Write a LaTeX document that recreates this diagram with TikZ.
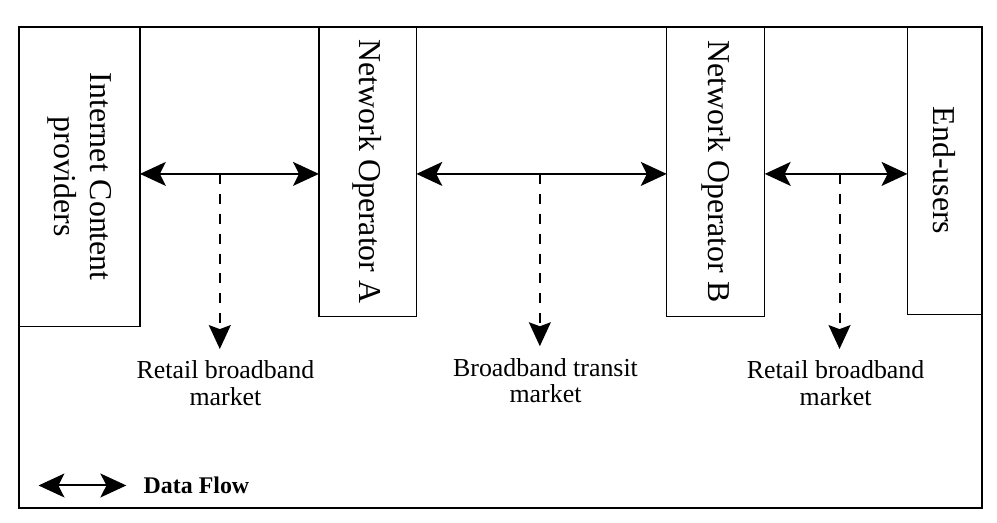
\documentclass[tikz,border=0pt]{standalone}
\usepackage{fontspec}
\setmainfont{Liberation Serif}
\usetikzlibrary{arrows.meta}

\tikzset{
	opbox/.style={rectangle, draw=black, line width=0.6pt, inner sep=0pt, outer sep=0pt},
	boxtext/.style={rotate=-90, align=center, font=\fontsize{16}{18}\selectfont},
	flow/.style={line width=1pt, {Stealth[length=13pt,width=12pt,inset=3pt]}-{Stealth[length=13pt,width=12pt,inset=3pt]}},
	market/.style={line width=1pt, dash pattern=on 5pt off 5pt, -{Stealth[length=12pt,width=11pt,inset=2pt]}},
	marketlabel/.style={align=center, font=\fontsize{13}{13.5}\selectfont, inner sep=1pt, outer sep=5pt}
}

\begin{document}
\begin{tikzpicture}
	\useasboundingbox (-0.33,0.47) rectangle (17.27,-8.76);
	\def\ya{-2.6}
	\def\bh{5.12}
	\coordinate (fy) at (0,\ya);
	\node[opbox, minimum width=2.14cm, minimum height=5.3cm] (icp) at (1.07,-2.65) {};
	\node[boxtext] at (icp) {Internet Content\\providers};
	\node[opbox, minimum width=1.72cm, minimum height=\bh cm] (opa) at (6.16,-\bh/2) {};
	\node[boxtext] at (opa) {Network Operator A};
	\node[opbox, minimum width=1.73cm, minimum height=\bh cm] (opb) at (12.305,-\bh/2) {};
	\node[boxtext] at (opb) {Network Operator B};
	\node[opbox, minimum width=1.31cm, minimum height=5.08cm] (eu) at (16.345,-2.54) {};
	\node[boxtext] at (eu) {End-users};
	\draw[line width=0.9pt] (0,0) rectangle (17,-8.5);
%%%%
	\draw[flow] (icp.east |- fy) -- (opa.west |- fy);
	\draw[flow] (opa.east |- fy) -- (opb.west |- fy);
	\draw[flow] (opb.east |- fy) -- (eu.west |- fy);
%%%%
	\coordinate (m1) at (3.55,\ya);
	\coordinate (m2) at (9.2,\ya);
	\coordinate (m3) at (14.49,\ya);
	\node[marketlabel] (mk1) at (3.65,-6.3) {Retail broadband\\market};
	\node[marketlabel] (mk2) at (9.3,-6.25) {Broadband transit\\market};
	\node[marketlabel] (mk3) at (14.42,-6.3) {Retail broadband\\market};
	\draw[market] (m1) -- (m1 |- mk1.north);
	\draw[market] (m2) -- (m2 |- mk2.north);
	\draw[market] (m3) -- (m3 |- mk3.north);
%%%%
	\coordinate (lg) at (0.35,-8.1);
	\node[anchor=west, inner xsep=0.3cm, font=\fontsize{12}{14}\selectfont\bfseries] (dflow) at (1.9,-8.1) {Data Flow};
	\draw[flow] (lg) -- (dflow);
\end{tikzpicture}
\end{document}
